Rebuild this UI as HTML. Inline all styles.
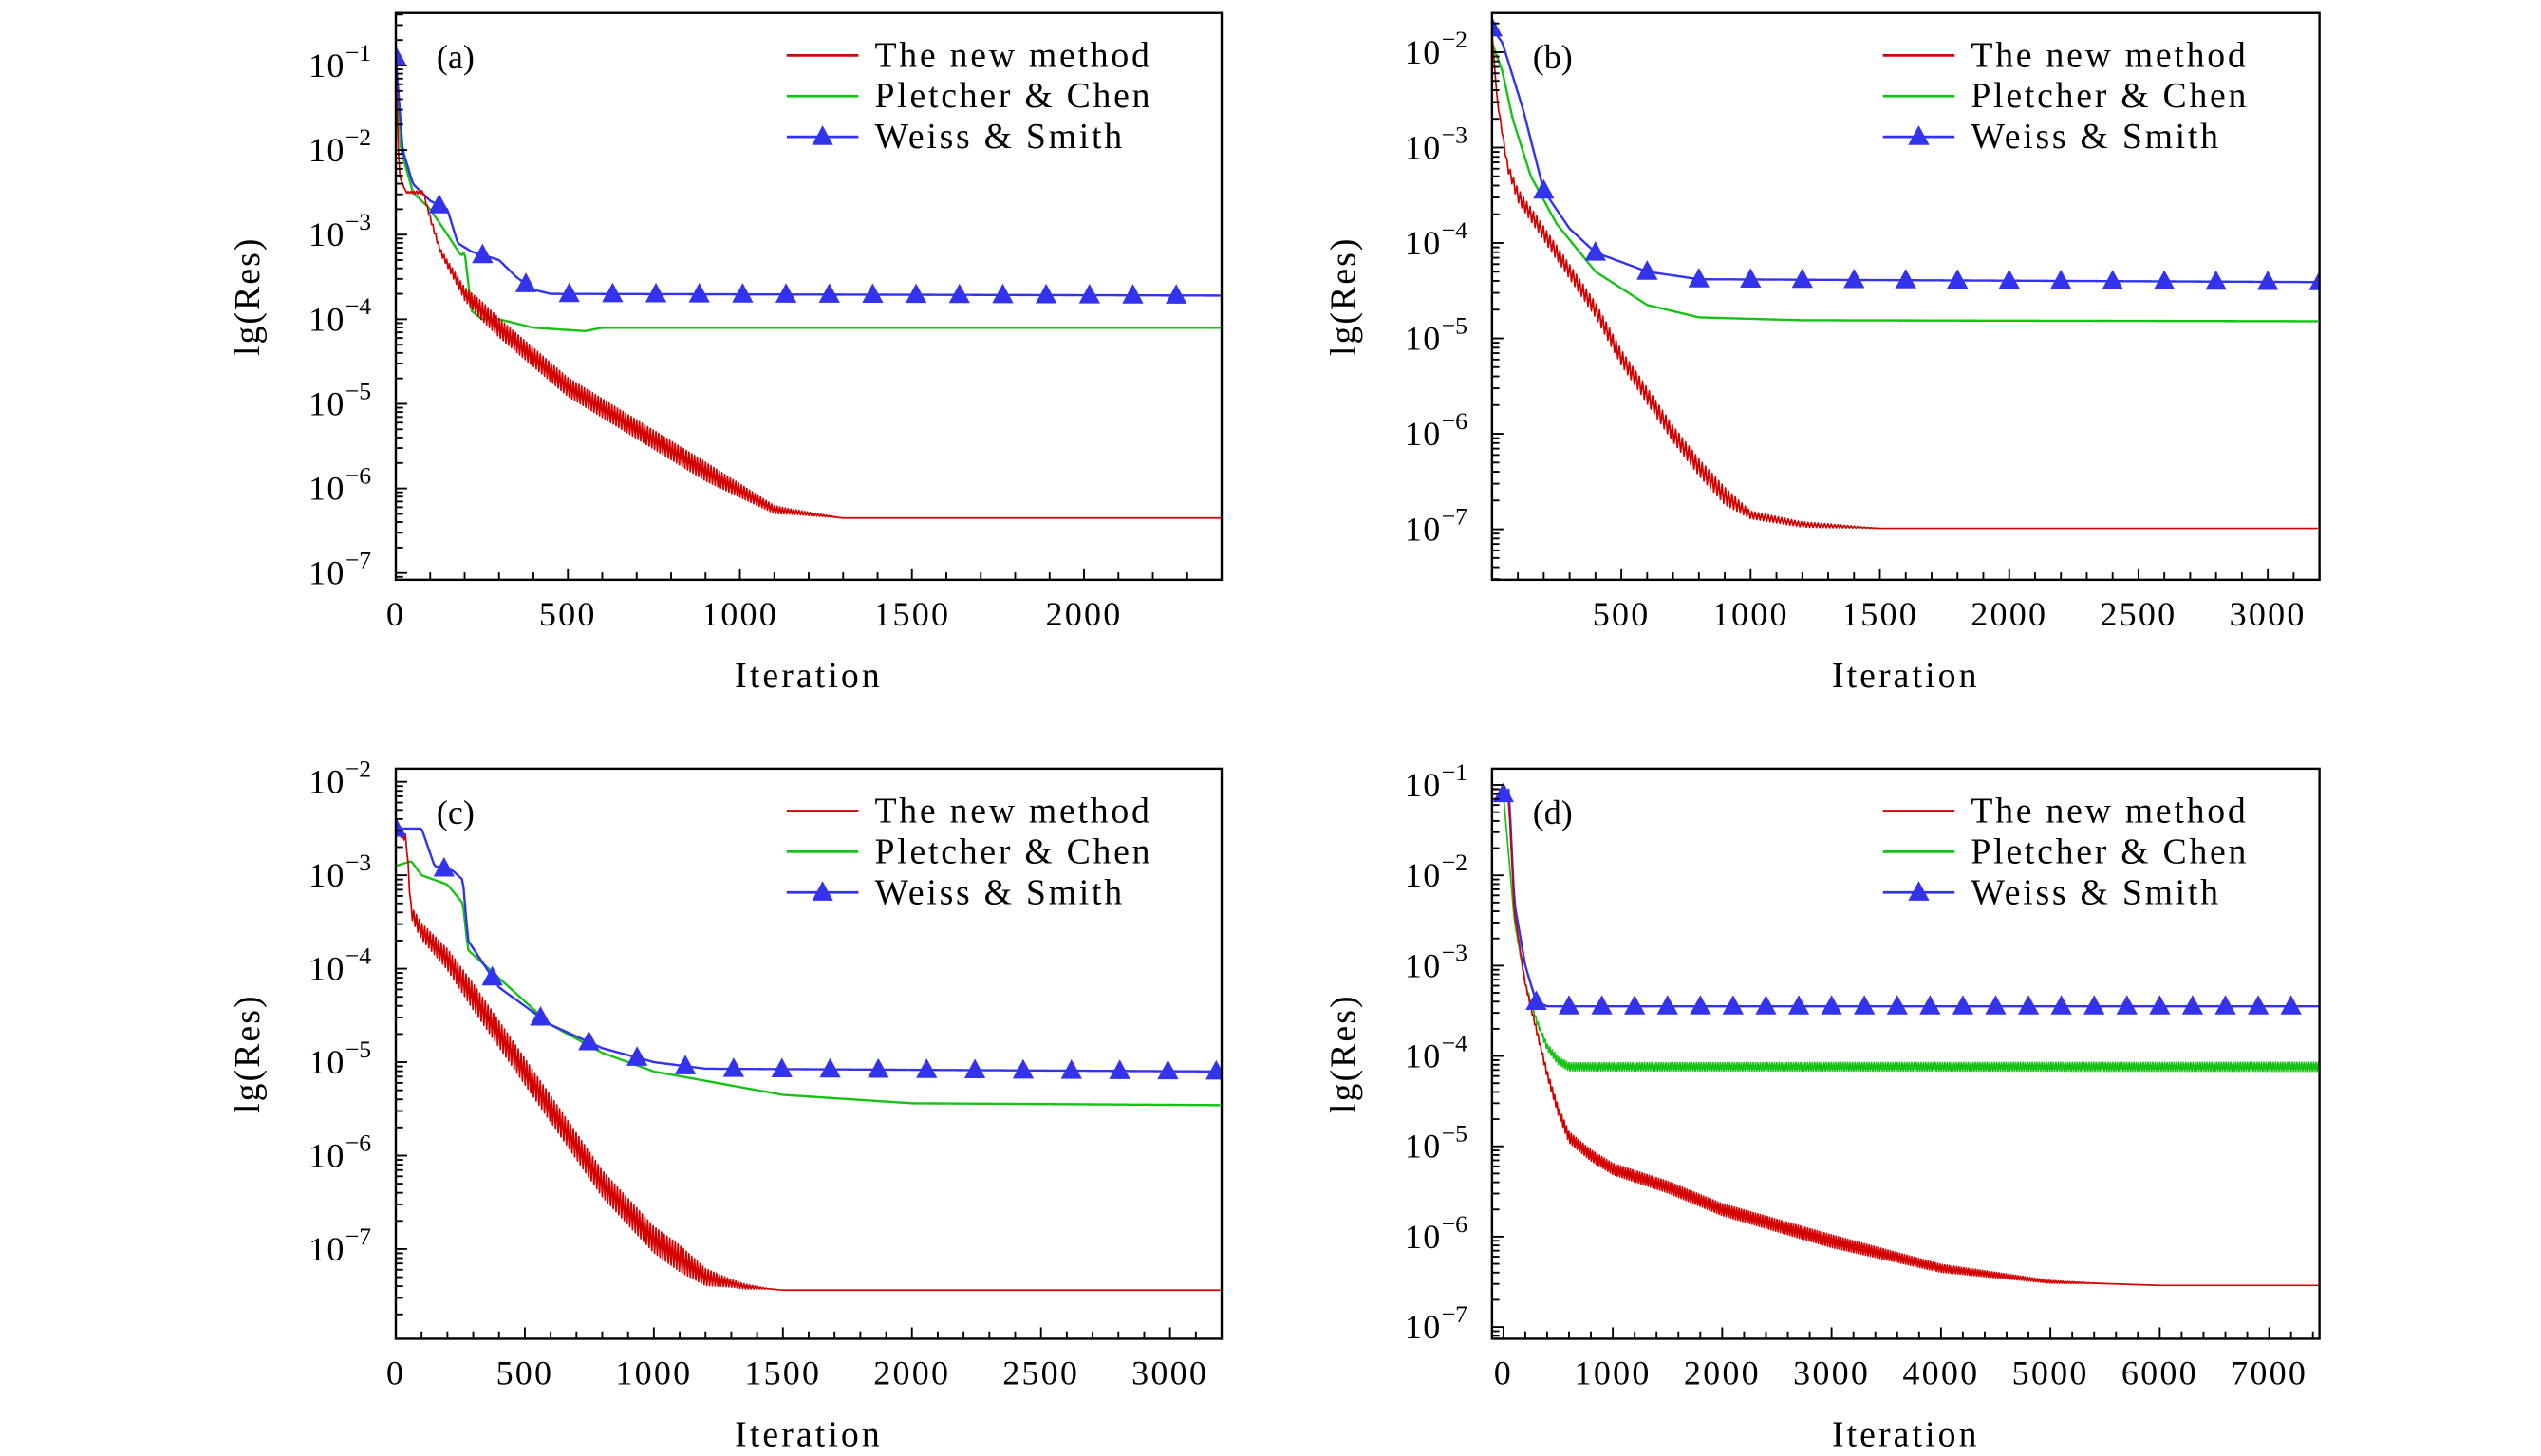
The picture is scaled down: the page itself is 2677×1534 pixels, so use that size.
<!DOCTYPE html>
<html><head><meta charset="utf-8">
<style>
html,body{margin:0;padding:0;background:#fff;}
svg{display:block;}
text{font-family:"Liberation Serif","DejaVu Serif",serif;fill:#000;}
</style></head>
<body>
<svg id="fig" xmlns="http://www.w3.org/2000/svg" width="2677" height="1534" viewBox="0 0 1560 894" preserveAspectRatio="none"></svg>
<script>
// ---------- Panel (a) data: [iteration, log10(residual)] ----------
const aRed = [[0,-1.0],[10,-2.3],[30,-2.5],[80,-2.5],[100,-2.8],[130,-3.2],[200,-3.7],[300,-4.1],[500,-4.8],[700,-5.3],[900,-5.8],[1100,-6.25],[1300,-6.35],[2400,-6.35]];
const aRedAmp = [[0,0],[150,0.04],[250,0.11],[900,0.11],[1150,0.03],[1300,0],[2400,0]];
const aGreen = [[0,-0.9],[15,-2.0],[50,-2.5],[100,-2.7],[150,-3.0],[190,-3.25],[200,-3.2],[220,-3.9],[250,-4.0],[300,-4.0],[350,-4.05],[400,-4.1],[550,-4.14],[600,-4.1],[2400,-4.1]];
const aBlue = [[0,-0.9],[20,-2.0],[50,-2.4],[100,-2.6],[150,-2.7],[180,-3.1],[220,-3.2],[300,-3.3],[350,-3.5],[400,-3.65],[450,-3.7],[2400,-3.72]];
const aMarkers = [0,126,252,378,504,630,756,882,1008,1134,1260,1386,1512,1638,1764,1890,2016,2142,2268];
const aXTicks = [0,500,1000,1500,2000];
const aYTicks = [-7,-6,-5,-4,-3,-2,-1];

// ---------- Panel (b) ----------
const bRed = [[0,-1.8],[20,-2.5],[60,-3.2],[100,-3.5],[200,-3.9],[300,-4.3],[400,-4.7],[500,-5.2],[600,-5.6],[700,-6.0],[800,-6.35],[900,-6.65],[1000,-6.85],[1200,-6.95],[1500,-6.99],[3200,-6.99]];
const bRedAmp = [[0,0],[100,0.07],[900,0.09],[1000,0.04],[1300,0.02],[1500,0],[3200,0]];
const bGreen = [[0,-1.9],[40,-2.2],[80,-2.7],[150,-3.3],[250,-3.8],[400,-4.3],[600,-4.65],[800,-4.78],[1200,-4.81],[3200,-4.82]];
const bBlue = [[0,-1.75],[40,-1.9],[120,-2.6],[200,-3.45],[300,-3.85],[400,-4.1],[600,-4.3],[800,-4.38],[3200,-4.41]];
const bMarkers = [0,200,400,600,800,1000,1200,1400,1600,1800,2000,2200,2400,2600,2800,3000,3200];
const bXTicks = [500,1000,1500,2000,2500,3000];
const bYTicks = [-7,-6,-5,-4,-3,-2];

// ---------- Panel (c) ----------
const cRed = [[0,-2.55],[40,-2.6],[60,-3.4],[100,-3.6],[200,-3.9],[300,-4.3],[400,-4.7],[500,-5.1],[600,-5.5],[700,-5.9],[800,-6.3],[900,-6.6],[1000,-6.9],[1100,-7.1],[1200,-7.3],[1350,-7.4],[1500,-7.44],[3200,-7.44]];
const cRedAmp = [[0,0],[80,0.08],[300,0.14],[1100,0.14],[1300,0.04],[1450,0],[3200,0]];
const cGreen = [[0,-2.9],[60,-2.85],[100,-3.0],[200,-3.1],[260,-3.3],[280,-3.8],[400,-4.1],[600,-4.6],[800,-4.9],[1000,-5.1],[1500,-5.35],[2000,-5.44],[3200,-5.46]];
const cBlue = [[0,-2.5],[100,-2.5],[150,-2.9],[220,-2.95],[260,-3.05],[280,-3.7],[400,-4.2],[600,-4.6],[800,-4.85],[1000,-5.0],[1200,-5.07],[3200,-5.1]];
const cMarkers = [0,187,374,561,748,935,1122,1309,1496,1683,1870,2057,2244,2431,2618,2805,2992,3179];
const cXTicks = [0,500,1000,1500,2000,2500,3000];
const cYTicks = [-7,-6,-5,-4,-3,-2];

// ---------- Panel (d) ----------
const dRed = [[0,-1.05],[50,-1.2],[100,-2.4],[200,-3.2],[300,-3.7],[400,-4.2],[500,-4.6],[600,-4.9],[800,-5.1],[1000,-5.25],[1500,-5.45],[2000,-5.7],[3000,-6.05],[4000,-6.35],[5000,-6.5],[6000,-6.54],[7460,-6.54]];
const dRedAmp = [[0,0],[600,0.06],[3000,0.07],[4500,0.03],[5500,0],[7460,0]];
const dGreen = [[0,-1.1],[100,-2.5],[200,-3.2],[300,-3.6],[400,-3.9],[500,-4.05],[600,-4.12],[7460,-4.12]];
const dGreenAmp = [[0,0],[500,0.045],[7460,0.05]];
const dBlue = [[0,-1.1],[50,-1.05],[100,-2.3],[200,-3.0],[300,-3.4],[400,-3.45],[7460,-3.45]];
const dMarkers = [0,300,600,900,1200,1500,1800,2100,2400,2700,3000,3300,3600,3900,4200,4500,4800,5100,5400,5700,6000,6300,6600,6900,7200];
const dXTicks = [0,1000,2000,3000,4000,5000,6000,7000];
const dYTicks = [-7,-6,-5,-4,-3,-2,-1];

const NS = "http://www.w3.org/2000/svg";
const svg = document.getElementById('fig');
function mk(tag, attrs, parent){
  const e = document.createElementNS(NS, tag);
  for (const k in attrs) e.setAttribute(k, attrs[k]);
  (parent||svg).appendChild(e);
  return e;
}
function interp(arr, x){
  if (x <= arr[0][0]) return arr[0][1];
  for (let i=1;i<arr.length;i++){
    if (x <= arr[i][0]){
      const [x0,y0]=arr[i-1],[x1,y1]=arr[i];
      return y0 + (y1-y0)*(x-x0)/(x1-x0);
    }
  }
  return arr[arr.length-1][1];
}
const SUP = {"-1":"−1","-2":"−2","-3":"−3","-4":"−4","-5":"−5","-6":"−6","-7":"−7"};

function panel(cfg){
  const g = mk('g', {});
  
  
  const {L,R,T,B,xmin,xmax,ymin,ymax} = cfg;
  const sx = v => L + (v-xmin)/(xmax-xmin)*(R-L);
  const sy = v => B - (v-ymin)/(ymax-ymin)*(B-T);
  const cp = mk('clipPath', {id:'clip-'+cfg.id}, g);
  mk('rect', {x:L, y:T, width:R-L, height:B-T}, cp);
  const plot = mk('g', {'clip-path':'url(#clip-'+cfg.id+')'}, g);
  
  

  function series(data, amp, color, name, step, w){
    let pts = [];
    let k = 0;
    for (let x = xmin; x <= xmax; x += step, k++){
      let y = interp(data, x);
      if (amp){ const a = interp(amp, x); y += (k%2 ? a : -a); }
      pts.push(sx(x).toFixed(2)+','+sy(y).toFixed(2));
    }
    const p = mk('polyline', {points:pts.join(' '), fill:'none', stroke:color, 'stroke-width':w, 'stroke-linejoin':'round'}, plot);
    
    
  }
  const span = xmax - xmin;
  series(cfg.green, cfg.greenAmp, '#16c216', 'pletcher-chen-line', span/(cfg.greenAmp?700:500), cfg.greenAmp?1.0:1.4);
  series(cfg.blue, null, '#3333ee', 'weiss-smith-line', span/500, 1.4);
  series(cfg.red, cfg.redAmp, '#d40000', 'new-method-line', span/cfg.redN, 1.0);
  cfg.markers.forEach(m=>{
    const cx = sx(m), cy = sy(interp(cfg.blue, m));
    const t = mk('polygon', {points:`${cx},${cy-7} ${cx-6.5},${cy+5} ${cx+6.5},${cy+5}`, fill:'#3333ee'}, plot);
    
    
  });

  const fr = mk('rect', {x:L, y:T, width:R-L, height:B-T, fill:'none', stroke:'#000', 'stroke-width':1.4}, g);
  
  

  const xax = mk('g', {}, g);
  
  
  for (let v = Math.ceil(xmin/cfg.xMinor)*cfg.xMinor; v <= xmax; v += cfg.xMinor){
    const major = cfg.xticks.includes(v);
    mk('line', {x1:sx(v), x2:sx(v), y1:B, y2:B-(major?7:4.5), stroke:'#000', 'stroke-width':1.1}, xax);
  }
  cfg.xticks.forEach(v=>{
    const t = mk('text', {x:sx(v), y:B+28, 'text-anchor':'middle', 'font-size':21, 'letter-spacing':1.3}, xax);
    t.textContent = v;
    
    
  });
  const xt = mk('text', {x:(L+R)/2, y:B+66, 'text-anchor':'middle', 'font-size':22, 'letter-spacing':1.8}, xax);
  xt.textContent = 'Iteration';
  
  

  const yax = mk('g', {}, g);
  
  
  for (let d = Math.floor(ymin); d < ymax; d++){
    for (let m = 1; m <= 9; m++){
      const v = d + Math.log10(m);
      if (v < ymin || v > ymax) continue;
      mk('line', {x1:L, x2:L+(m===1?7:4.5), y1:sy(v), y2:sy(v), stroke:'#000', 'stroke-width':1.1}, yax);
    }
  }
  cfg.yticks.forEach(v=>{
    const t = mk('text', {x:L-31, y:sy(v)+7, 'text-anchor':'end', 'font-size':21, 'letter-spacing':0.8}, yax);
    t.textContent = '10';
    
    
    const s = mk('text', {x:L-31, y:sy(v)-3, 'text-anchor':'start', 'font-size':15}, yax);
    s.textContent = SUP[String(v)];
    
    
  });
  const yt = mk('text', {x:0, y:0, 'text-anchor':'middle', 'font-size':22, 'letter-spacing':1.2, transform:`translate(${L-84},${(T+B)/2}) rotate(-90)`}, yax);
  yt.textContent = 'lg(Res)';
  
  

  const pl = mk('text', {x:L+25, y:T+34, 'font-size':21}, g);
  pl.textContent = '('+cfg.id+')';
  
  

  const lg = mk('g', {}, g);
  
  
  const entries = [['The new method','#d40000',false],['Pletcher & Chen','#16c216',false],['Weiss & Smith','#3333ee',true]];
  entries.forEach((e,i)=>{
    const y = T + 26 + i*25;
    const x0 = L + 240;
    const en = mk('g', {}, lg);
    
    
    mk('line', {x1:x0, x2:x0+44, y1:y, y2:y, stroke:e[1], 'stroke-width':1.6}, en);
    if (e[2]) mk('polygon', {points:`${x0+22},${y-7} ${x0+15.5},${y+5} ${x0+28.5},${y+5}`, fill:e[1]}, en);
    const t = mk('text', {x:x0+54, y:y+7, 'font-size':22, 'letter-spacing':1.6}, en);
    t.textContent = e[0];
  });
}

panel({id:'a', L:243, R:750, T:8, B:356, xmin:0, xmax:2400, ymin:-7.08, ymax:-0.38,
  red:aRed, redAmp:aRedAmp, green:aGreen, blue:aBlue, markers:aMarkers, xticks:aXTicks, yticks:aYTicks, xMinor:100, redN:600});
panel({id:'b', L:916, R:1424, T:8, B:356, xmin:0, xmax:3200, ymin:-7.53, ymax:-1.59,
  red:bRed, redAmp:bRedAmp, green:bGreen, blue:bBlue, markers:bMarkers, xticks:bXTicks, yticks:bYTicks, xMinor:100, redN:500});
panel({id:'c', L:243, R:750, T:472, B:822, xmin:0, xmax:3200, ymin:-7.96, ymax:-1.86,
  red:cRed, redAmp:cRedAmp, green:cGreen, blue:cBlue, markers:cMarkers, xticks:cXTicks, yticks:cYTicks, xMinor:100, redN:600});
panel({id:'d', L:916, R:1424, T:472, B:822, xmin:-104, xmax:7460, ymin:-7.13, ymax:-0.82,
  red:dRed, redAmp:dRedAmp, green:dGreen, greenAmp:dGreenAmp, blue:dBlue, markers:dMarkers, xticks:dXTicks, yticks:dYTicks, xMinor:200, redN:700});
</script>
</body></html>
